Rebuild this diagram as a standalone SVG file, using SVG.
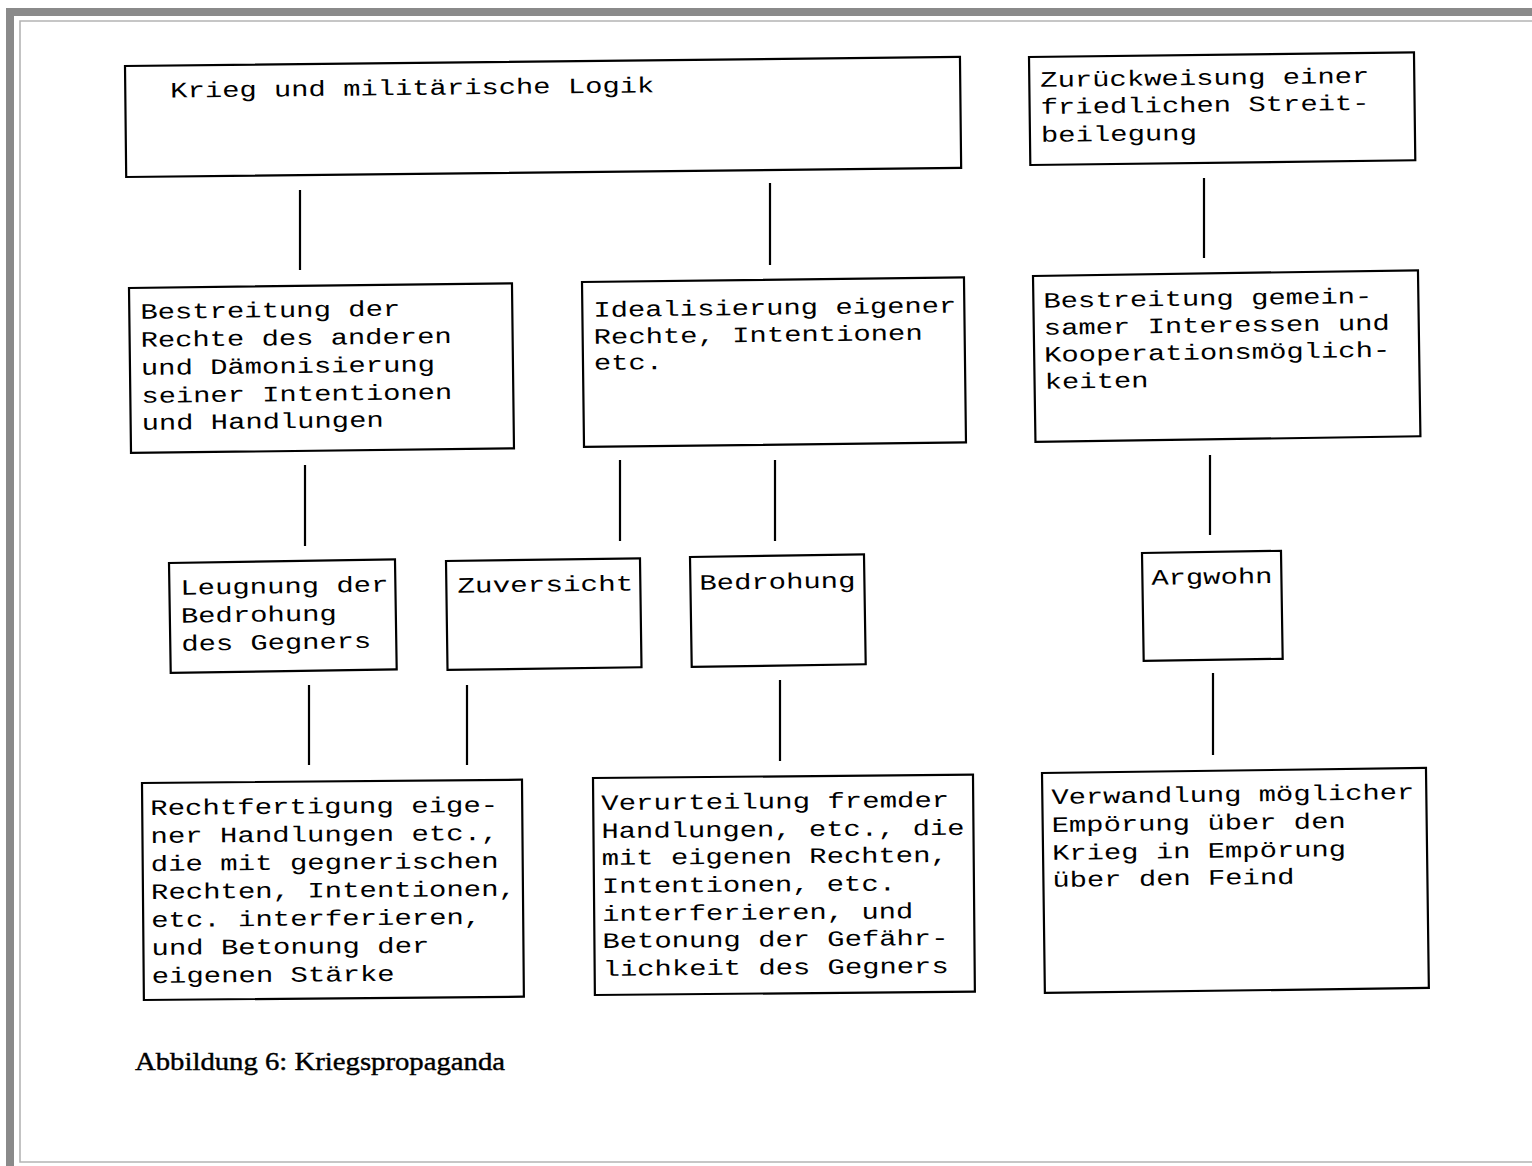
<svg xmlns="http://www.w3.org/2000/svg" width="1532" height="1166" viewBox="0 0 1532 1166">
  <style>
    .box { fill: #ffffff; stroke: #000000; stroke-width: 2.2; }
    .t { font-family: "Liberation Mono", "DejaVu Sans Mono", monospace; font-size: 22px; fill: #000000; }
    .conn line { stroke: #000000; stroke-width: 2.2; }
    .cap { font-family: "Liberation Serif", "Times New Roman", serif; font-size: 25px; fill: #000000; stroke: #000000; stroke-width: 0.4; }
  </style>

  <rect x="0" y="0" width="1532" height="1166" fill="#ffffff"/>

  <!-- page frame -->
  <g id="frame">
    <rect x="6" y="8" width="1526" height="8" fill="#8a8a8a"/>
    <rect x="6" y="8" width="8" height="1158" fill="#8a8a8a"/>
    <polyline points="1532,21 20,21 20,1162 1532,1162" fill="none" stroke="#b4b4b4" stroke-width="1.6"/>
  </g>

  <!-- connectors -->
  <g id="connectors" class="conn">
    <line x1="300" y1="190" x2="300" y2="270"/>
    <line x1="770" y1="183" x2="770" y2="265"/>
    <line x1="1204" y1="178" x2="1204" y2="258"/>
    <line x1="305" y1="465" x2="305" y2="546"/>
    <line x1="620" y1="460" x2="620" y2="541"/>
    <line x1="775" y1="460" x2="775" y2="541"/>
    <line x1="1210" y1="455" x2="1210" y2="535"/>
    <line x1="309" y1="685" x2="309" y2="765"/>
    <line x1="467" y1="685" x2="467" y2="765"/>
    <line x1="780" y1="680" x2="780" y2="761"/>
    <line x1="1213" y1="673" x2="1213" y2="755"/>
  </g>

  <!-- level 1 -->
  <g id="krieg" transform="rotate(-0.62 125 66)">
    <rect class="box" x="125" y="66" width="835" height="111"/>
    <text class="t" x="170" y="98" textLength="484" lengthAdjust="spacingAndGlyphs">Krieg und militärische Logik</text>
  </g>

  <g id="zurueckweisung" transform="rotate(-0.7 1029 57)">
    <rect class="box" x="1029" y="57" width="385" height="108"/>
    <text class="t" x="1040" y="87" textLength="329" lengthAdjust="spacingAndGlyphs">Zurückweisung einer</text>
    <text class="t" x="1040" y="114" textLength="329" lengthAdjust="spacingAndGlyphs">friedlichen Streit-</text>
    <text class="t" x="1040" y="142" textLength="156" lengthAdjust="spacingAndGlyphs">beilegung</text>
  </g>

  <!-- level 2 -->
  <g id="bestreitung-rechte" transform="rotate(-0.7 129 288)">
    <rect class="box" x="129" y="288" width="383" height="165"/>
    <text class="t" x="140" y="319" textLength="260" lengthAdjust="spacingAndGlyphs">Bestreitung der</text>
    <text class="t" x="140" y="347" textLength="311" lengthAdjust="spacingAndGlyphs">Rechte des anderen</text>
    <text class="t" x="140" y="375" textLength="294" lengthAdjust="spacingAndGlyphs">und Dämonisierung</text>
    <text class="t" x="140" y="403" textLength="311" lengthAdjust="spacingAndGlyphs">seiner Intentionen</text>
    <text class="t" x="140" y="430" textLength="242" lengthAdjust="spacingAndGlyphs">und Handlungen</text>
  </g>

  <g id="idealisierung" transform="rotate(-0.7 582 282)">
    <rect class="box" x="582" y="282" width="382" height="165"/>
    <text class="t" x="593" y="317" textLength="363" lengthAdjust="spacingAndGlyphs">Idealisierung eigener</text>
    <text class="t" x="593" y="344" textLength="329" lengthAdjust="spacingAndGlyphs">Rechte, Intentionen</text>
    <text class="t" x="593" y="370" textLength="69" lengthAdjust="spacingAndGlyphs">etc.</text>
  </g>

  <g id="bestreitung-interessen" transform="rotate(-0.85 1033 276)">
    <rect class="box" x="1033" y="276" width="385" height="166"/>
    <text class="t" x="1043" y="308" textLength="329" lengthAdjust="spacingAndGlyphs">Bestreitung gemein-</text>
    <text class="t" x="1043" y="335" textLength="346" lengthAdjust="spacingAndGlyphs">samer Interessen und</text>
    <text class="t" x="1043" y="362" textLength="346" lengthAdjust="spacingAndGlyphs">Kooperationsmöglich-</text>
    <text class="t" x="1043" y="389" textLength="104" lengthAdjust="spacingAndGlyphs">keiten</text>
  </g>

  <!-- level 3 -->
  <g id="leugnung" transform="rotate(-0.9 169 563)">
    <rect class="box" x="169" y="563" width="226" height="110"/>
    <text class="t" x="180" y="595" textLength="208" lengthAdjust="spacingAndGlyphs">Leugnung der</text>
    <text class="t" x="180" y="623" textLength="156" lengthAdjust="spacingAndGlyphs">Bedrohung</text>
    <text class="t" x="180" y="651" textLength="190" lengthAdjust="spacingAndGlyphs">des Gegners</text>
  </g>

  <g id="zuversicht" transform="rotate(-0.8 446 561)">
    <rect class="box" x="446" y="561" width="194" height="109"/>
    <text class="t" x="457" y="593" textLength="176" lengthAdjust="spacingAndGlyphs">Zuversicht</text>
  </g>

  <g id="bedrohung" transform="rotate(-0.9 690 557)">
    <rect class="box" x="690" y="557" width="174" height="110"/>
    <text class="t" x="699" y="590" textLength="156" lengthAdjust="spacingAndGlyphs">Bedrohung</text>
  </g>

  <g id="argwohn" transform="rotate(-0.9 1142 553)">
    <rect class="box" x="1142" y="553" width="139" height="108"/>
    <text class="t" x="1151" y="585" textLength="121" lengthAdjust="spacingAndGlyphs">Argwohn</text>
  </g>

  <!-- level 4 -->
  <g id="rechtfertigung" transform="rotate(-0.5 142 783)">
    <rect class="box" x="142" y="783" width="380" height="217"/>
    <text class="t" x="150" y="815" textLength="348" lengthAdjust="spacingAndGlyphs">Rechtfertigung eige-</text>
    <text class="t" x="150" y="843" textLength="348" lengthAdjust="spacingAndGlyphs">ner Handlungen etc.,</text>
    <text class="t" x="150" y="871" textLength="348" lengthAdjust="spacingAndGlyphs">die mit gegnerischen</text>
    <text class="t" x="150" y="899" textLength="365" lengthAdjust="spacingAndGlyphs">Rechten, Intentionen,</text>
    <text class="t" x="150" y="927" textLength="330" lengthAdjust="spacingAndGlyphs">etc. interferieren,</text>
    <text class="t" x="150" y="955" textLength="278" lengthAdjust="spacingAndGlyphs">und Betonung der</text>
    <text class="t" x="150" y="983" textLength="243" lengthAdjust="spacingAndGlyphs">eigenen Stärke</text>
  </g>

  <g id="verurteilung" transform="rotate(-0.5 593 778)">
    <rect class="box" x="593" y="778" width="380" height="217"/>
    <text class="t" x="601" y="810" textLength="348" lengthAdjust="spacingAndGlyphs">Verurteilung fremder</text>
    <text class="t" x="601" y="838" textLength="363" lengthAdjust="spacingAndGlyphs">Handlungen, etc., die</text>
    <text class="t" x="601" y="865" textLength="346" lengthAdjust="spacingAndGlyphs">mit eigenen Rechten,</text>
    <text class="t" x="601" y="893" textLength="294" lengthAdjust="spacingAndGlyphs">Intentionen, etc.</text>
    <text class="t" x="601" y="921" textLength="311" lengthAdjust="spacingAndGlyphs">interferieren, und</text>
    <text class="t" x="601" y="948" textLength="346" lengthAdjust="spacingAndGlyphs">Betonung der Gefähr-</text>
    <text class="t" x="601" y="976" textLength="346" lengthAdjust="spacingAndGlyphs">lichkeit des Gegners</text>
  </g>

  <g id="verwandlung" transform="rotate(-0.75 1042 773)">
    <rect class="box" x="1042" y="773" width="384" height="220"/>
    <text class="t" x="1051" y="804" textLength="363" lengthAdjust="spacingAndGlyphs">Verwandlung möglicher</text>
    <text class="t" x="1051" y="832" textLength="294" lengthAdjust="spacingAndGlyphs">Empörung über den</text>
    <text class="t" x="1051" y="860" textLength="294" lengthAdjust="spacingAndGlyphs">Krieg in Empörung</text>
    <text class="t" x="1051" y="887" textLength="242" lengthAdjust="spacingAndGlyphs">über den Feind</text>
  </g>

  <!-- figure caption -->
  <text id="caption" class="cap" x="135" y="1070" textLength="370" lengthAdjust="spacingAndGlyphs">Abbildung 6: Kriegspropaganda</text>
</svg>
